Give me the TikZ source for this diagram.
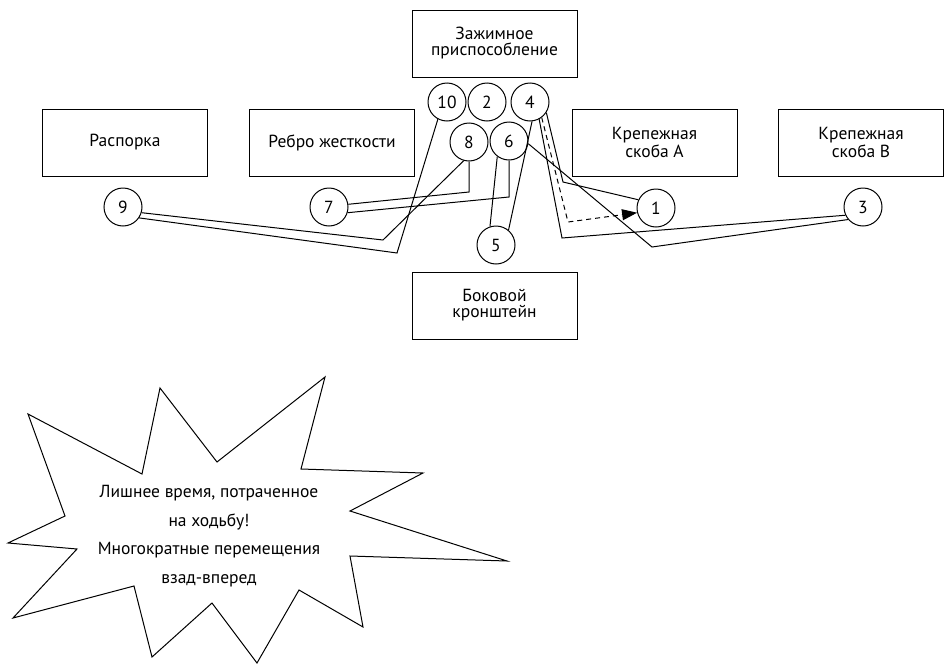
\documentclass[tikz,border=0pt]{standalone}
\usepackage{fontspec}
\setmainfont{PT Sans}
\usetikzlibrary{arrows.meta}
\begin{document}
\begin{tikzpicture}[x=1pt,y=-1pt,
  font=\fontsize{17.5}{16}\selectfont,
  area/.style={draw,line width=1pt,minimum width=165pt,minimum height=67pt,
    inner sep=0pt,align=center},
  num/.style={draw,circle,line width=1pt,minimum size=38pt,inner sep=0pt},
  path/.style={line width=1pt,line join=miter},
  back/.style={line width=1pt,dash pattern=on 5pt off 4pt,
    -{Triangle[length=15pt,width=11pt]}}]
\useasboundingbox (0,0) rectangle (945,664);

% work areas
\node[area] (clamp) at (494.5,43.5) {Зажимное\\приспособление};
\node[area] (spacer) at (125,142.5) {Распорка};
\node[area] (rib) at (332,142.5) {Ребро жесткости};
\node[area] (brA) at (654.5,142.5) {Крепежная\\скоба A};
\node[area] (brB) at (861,142.5) {Крепежная\\скоба B};
\node[area] (side) at (494.5,305.5) {Боковой\\кронштейн};

% numbered stops
\node[num] (s10) at (447,102) {10};
\node[num] (s2) at (487,102) {2};
\node[num] (s4) at (530,102) {4};
\node[num] (s8) at (469,142) {8};
\node[num] (s6) at (509,141) {6};
\node[num] (s5) at (496,245) {5};
\node[num] (s1) at (656,208) {1};
\node[num] (s9) at (123,207) {9};
\node[num] (s7) at (329,207) {7};
\node[num] (s3) at (863,207) {3};

% bends of the walking routes
\coordinate (k98) at (383,240);
\coordinate (k910) at (397,253);
\coordinate (k78) at (469,192);
\coordinate (k76) at (509,197);
\coordinate (k43) at (562,238);
\coordinate (k41) at (563,182);
\coordinate (k41b) at (568,222);
\coordinate (k63) at (652,247);

% walking routes
\draw[path] (s9.-17) -- (k98) -- (s8.254);
\draw[path] (s9.-34) -- (k910) -- (s10.242);
\draw[path] (s7.8) -- (k78) -- (s8.south);
\draw[path] (s7.-17) -- (k76) -- (s6.south);
\draw[path] (s6.233) -- (s5.108);
\draw[path] (s4.276) -- (s5.50);
\draw[path] (s4.-62) -- (k43) -- (s3.205);
\draw[path] (s4.-33) -- (k41) -- (s1.155);
\draw[back] (s4.-53) -- (k41b) -- (s1.194);
\draw[path] (s6.-8) -- (k63) -- (s3.220);

% burst callout
\draw[line width=1pt,line join=miter]
  (28,414) -- (142,474) -- (160,388) -- (217,462) -- (325,377) -- (301,469)
  -- (423,473) -- (350,511) -- (507,561) -- (350,556) -- (363,627)
  -- (299,590) -- (257,663) -- (212,603) -- (152,657) -- (134,586)
  -- (13,618) -- (77,549) -- (8,543) -- (65,516) -- cycle;
\node[align=center,font=\fontsize{17.5}{28.5}\selectfont] (note) at (209,536)
  {Лишнее время, потраченное\\на ходьбу!\\Многократные перемещения\\взад-вперед};
\end{tikzpicture}
\end{document}
